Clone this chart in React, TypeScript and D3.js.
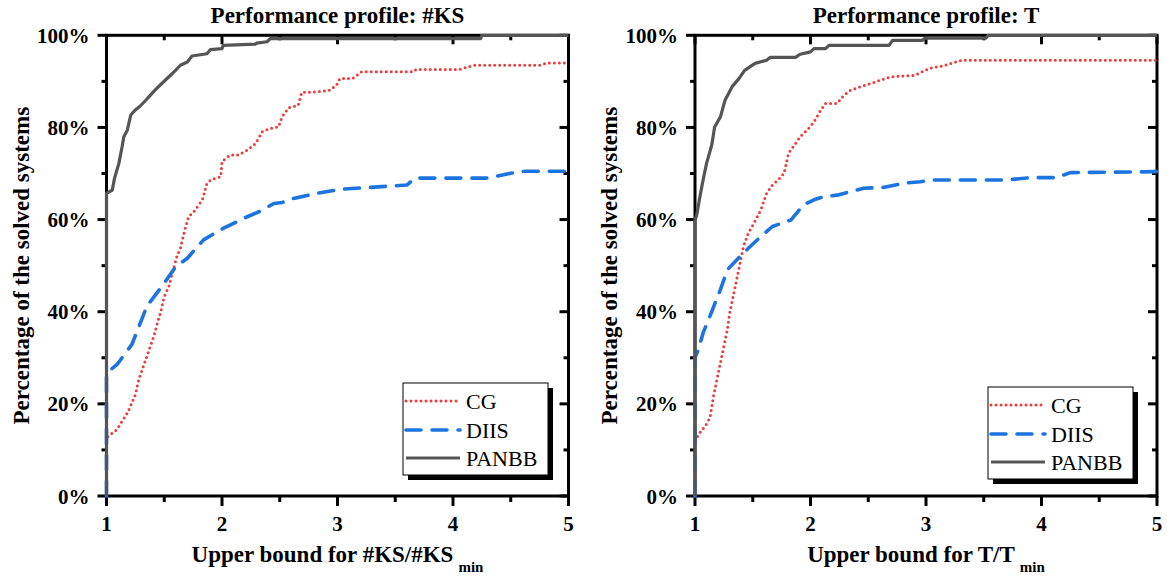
import React from "react";
import * as d3 from "d3";

// ---------- data (x = upper bound ratio, y = percentage solved) ----------
const xTicks = [1, 2, 3, 4, 5];
const xMinorTicks = [1.5, 2.5, 3.5, 4.5];
const yTicks = [0, 20, 40, 60, 80, 100];
const yMinorTicks = [10, 30, 50, 70, 90];
const seriesNames = ["CG", "DIIS", "PANBB"];

const ksCG: [number, number][] = [
  [1, 0], [1, 12.6], [1.035, 13.4], [1.09, 14.4], [1.135, 16.2], [1.18, 18], [1.22, 20.2], [1.25, 22],
  [1.28, 25.3], [1.32, 28.2], [1.37, 31.8], [1.41, 34.7], [1.44, 37.5], [1.47, 40], [1.5, 43.3],
  [1.54, 45.5], [1.57, 48.4], [1.61, 52], [1.64, 53.8], [1.67, 57], [1.71, 60.6], [1.77, 62.1],
  [1.83, 64.3], [1.87, 67.9], [1.91, 68.7], [1.99, 69.3], [2.0, 72.6], [2.07, 74], [2.14, 74],
  [2.22, 75.1], [2.29, 76.5], [2.35, 79.1], [2.42, 79.8], [2.49, 80.1], [2.52, 82.3], [2.58, 84.3],
  [2.66, 84.8], [2.69, 87.6], [2.82, 87.7], [2.94, 88.1], [3.0, 89.5], [3.02, 90.6], [3.13, 90.6],
  [3.21, 92.1], [3.66, 92.1], [3.68, 92.6], [4.06, 92.6], [4.18, 93.5], [4.75, 93.5], [4.82, 94.0],
  [5, 94.0],
];
const ksDIIS: [number, number][] = [
  [1, 0], [1, 26.7], [1.09, 28.5], [1.22, 32.9], [1.35, 41.2], [1.48, 45.5], [1.6, 49.8], [1.7, 51.6],
  [1.84, 55.6], [2.01, 58.1], [2.19, 60.3], [2.32, 61.7], [2.45, 63.5], [2.52, 63.7], [2.62, 64.6],
  [2.82, 65.7], [2.94, 66.2], [3.04, 66.6], [3.6, 67.5], [3.67, 69.0], [4.29, 69.0], [4.51, 70.1],
  [4.63, 70.5], [5, 70.5],
];
const ksPANBB: [number, number][] = [
  [1, 0], [1, 65.7], [1.05, 66.4], [1.07, 69], [1.107, 72.2], [1.135, 75.8], [1.15, 78], [1.18, 79.4],
  [1.21, 82.7], [1.25, 83.8], [1.29, 84.6], [1.34, 85.9], [1.38, 87], [1.42, 88.1], [1.51, 90.3],
  [1.57, 91.7], [1.64, 93.5], [1.7, 94.2], [1.74, 95.5], [1.87, 96], [1.9, 96.9], [2.0, 97.1],
  [2.01, 97.8], [2.29, 98.1], [2.3, 98.3], [2.39, 98.6], [2.42, 99.3], [4.24, 99.3], [4.25, 100],
  [5, 100],
];

const tCG: [number, number][] = [
  [1, 0], [1, 11.6], [1.03, 13.4], [1.09, 15.2], [1.13, 17], [1.16, 21.7], [1.19, 25.3], [1.22, 28.9],
  [1.25, 32.5], [1.28, 36.1], [1.3, 39.7], [1.33, 43.3], [1.36, 46.9], [1.39, 50.5], [1.42, 54.2],
  [1.46, 57], [1.51, 59.2], [1.57, 62.1], [1.62, 65.7], [1.67, 67.5], [1.72, 68.6], [1.77, 70],
  [1.81, 74.4], [1.87, 76.5], [1.91, 78], [1.97, 79.4], [2.03, 81.2], [2.09, 83.8], [2.13, 85.2],
  [2.23, 85.2], [2.29, 87], [2.35, 88.1], [2.43, 88.8], [2.52, 89.5], [2.61, 90.3], [2.7, 91],
  [2.9, 91.3], [3.03, 92.8], [3.17, 93.5], [3.31, 94.6], [5, 94.6],
];
const tDIIS: [number, number][] = [
  [1, 0], [1, 30], [1.03, 31.8], [1.07, 35.4], [1.14, 39.7], [1.22, 44.8], [1.28, 49.1], [1.39, 52],
  [1.48, 54.2], [1.57, 56.3], [1.67, 58.5], [1.83, 59.9], [1.94, 63.2], [2.03, 64.3], [2.12, 65],
  [2.23, 65.3], [2.35, 66.1], [2.46, 66.8], [2.64, 67], [2.81, 67.9], [2.95, 68.2], [3.06, 68.6],
  [3.7, 68.6], [3.9, 69.1], [4.13, 69.1], [4.25, 70.2], [5, 70.4],
];
const tPANBB: [number, number][] = [
  [1, 0], [1, 59.9], [1.015, 61], [1.043, 65], [1.07, 68.6], [1.1, 72.2], [1.145, 76.2], [1.17, 80.1],
  [1.22, 82.3], [1.26, 85.9], [1.32, 88.8], [1.38, 90.6], [1.43, 92.4], [1.52, 93.9], [1.62, 94.6],
  [1.65, 95.2], [1.87, 95.2], [1.91, 95.9], [2.0, 96.4], [2.03, 97.1], [2.13, 97.1], [2.16, 97.8],
  [2.68, 97.8], [2.71, 98.9], [2.97, 98.9], [2.99, 99.4], [3.52, 99.4], [3.54, 100], [5, 100],
];

// ---------- styles ----------
const FONT = "'Liberation Serif', 'Times New Roman', serif";
const styles = [
  { color: "#ee3b3b", width: 3, dash: "0,5", cap: "round" as const },
  { color: "#1c74e0", width: 3.6, dash: "15,11", cap: "round" as const },
  { color: "#555555", width: 3.2, dash: "", cap: "butt" as const },
];

const Y_TOP = 35.3;
const Y_BOT = 496;

type Panel = {
  x0: number; x1: number; title: string; xLabel: string; yTitleX: number;
  legend: { x: number; y: number }; data: [number, number][][];
};

const panels: Panel[] = [
  { x0: 106.5, x1: 568.5, title: "Performance profile: #KS", xLabel: "Upper bound for #KS/#KS", yTitleX: 29,
    legend: { x: 403, y: 383 }, data: [ksCG, ksDIIS, ksPANBB] },
  { x0: 695, x1: 1157, title: "Performance profile: T", xLabel: "Upper bound for T/T", yTitleX: 617,
    legend: { x: 988, y: 387 }, data: [tCG, tDIIS, tPANBB] },
];

function PanelView({ p }: { p: Panel }) {
  const x = d3.scaleLinear().domain([1, 5]).range([p.x0, p.x1]);
  const y = d3.scaleLinear().domain([0, 100]).range([Y_BOT, Y_TOP]);
  const line = d3.line<[number, number]>().x((d) => x(d[0])).y((d) => y(d[1]));
  const cx = (p.x0 + p.x1) / 2;
  const cy = (Y_TOP + Y_BOT) / 2;
  const lw = 3;
  const lg = p.legend;
  const lgW = 145, lgH = 92;
  const rowY = [18, 47, 75];
  return (
    <g>
      <text x={cx} y={23} textAnchor="middle" fontFamily={FONT} fontWeight="bold" fontSize={23}>{p.title}</text>
      <rect x={p.x0} y={Y_TOP} width={p.x1 - p.x0} height={Y_BOT - Y_TOP} fill="none" stroke="#000" strokeWidth={lw} />
      {xTicks.map((t) => (
        <g key={"xt" + t}>
          <line x1={x(t)} x2={x(t)} y1={Y_BOT} y2={Y_BOT + 10} stroke="#000" strokeWidth={lw} />
          <line x1={x(t)} x2={x(t)} y1={Y_TOP} y2={Y_TOP + 9} stroke="#000" strokeWidth={lw} />
          <text x={x(t)} y={531} textAnchor="middle" fontFamily={FONT} fontWeight="bold" fontSize={21}>{t}</text>
        </g>
      ))}
      {xMinorTicks.map((t) => (
        <g key={"xm" + t}>
          <line x1={x(t)} x2={x(t)} y1={Y_BOT} y2={Y_BOT + 6} stroke="#000" strokeWidth={lw} />
          <line x1={x(t)} x2={x(t)} y1={Y_TOP} y2={Y_TOP + 5} stroke="#000" strokeWidth={lw} />
        </g>
      ))}
      {yTicks.map((t) => (
        <g key={"yt" + t}>
          <line x1={p.x0 - 9} x2={p.x0} y1={y(t)} y2={y(t)} stroke="#000" strokeWidth={lw} />
          <line x1={p.x1 - 9} x2={p.x1} y1={y(t)} y2={y(t)} stroke="#000" strokeWidth={lw} />
          <text x={p.x0 - 17} y={y(t) + 7.5} textAnchor="end" fontFamily={FONT} fontWeight="bold" fontSize={21}>{t + "%"}</text>
        </g>
      ))}
      {yMinorTicks.map((t) => (
        <g key={"ym" + t}>
          <line x1={p.x0 - 5} x2={p.x0} y1={y(t)} y2={y(t)} stroke="#000" strokeWidth={lw} />
          <line x1={p.x1 - 5} x2={p.x1} y1={y(t)} y2={y(t)} stroke="#000" strokeWidth={lw} />
        </g>
      ))}
      <text x={cx} y={562} textAnchor="middle" fontFamily={FONT} fontWeight="bold" fontSize={23}>
        {p.xLabel}
        <tspan fontSize={15} dx={5} dy={10}>min</tspan>
      </text>
      <text transform={`translate(${p.yTitleX},${cy}) rotate(-90)`} textAnchor="middle" fontFamily={FONT} fontWeight="bold" fontSize={23}>
        Percentage of the solved systems
      </text>
      {p.data.map((d, i) => (
        <path key={"s" + i} d={line(d) || ""} fill="none" stroke={styles[i].color} strokeWidth={styles[i].width}
          strokeDasharray={styles[i].dash || undefined} strokeLinecap={styles[i].cap} strokeLinejoin="round" />
      ))}
      <rect x={lg.x + 5} y={lg.y + 5} width={lgW} height={lgH} fill="#000" />
      <rect x={lg.x} y={lg.y} width={lgW} height={lgH} fill="#fff" stroke="#000" strokeWidth={1} />
      {seriesNames.map((n, i) => (
        <g key={"lg" + n}>
          <line x1={lg.x + 3} x2={lg.x + 57} y1={lg.y + rowY[i]} y2={lg.y + rowY[i]} stroke={styles[i].color}
            strokeWidth={styles[i].width} strokeDasharray={styles[i].dash || undefined} strokeLinecap={styles[i].cap} />
          <text x={lg.x + 63} y={lg.y + rowY[i] + 7.5} fontFamily={FONT} fontSize={22}>{n}</text>
        </g>
      ))}
    </g>
  );
}

export default function App() {
  return (
    <svg width={1167} height={581} style={{ position: "absolute", left: 0, top: 0, background: "#fff" }}>
      <rect width={1167} height={581} fill="#fff" />
      {panels.map((p, i) => (
        <PanelView key={i} p={p} />
      ))}
    </svg>
  );
}
